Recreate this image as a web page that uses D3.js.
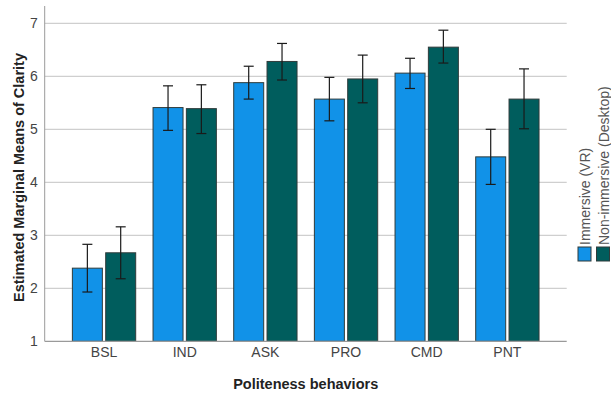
<!DOCTYPE html>
<html>
<head>
<meta charset="utf-8">
<script src="https://cdn.jsdelivr.net/npm/d3@7"></script>
<style>
body { margin: 0; background: #fff; }
text { font-family: Arial, "Liberation Sans", sans-serif; }
</style>
</head>
<body>
<div id="chart"></div>
<script>
var svgWidth = 611;
var svgHeight = 397;

// data
var behaviors = ["BSL", "IND", "ASK", "PRO", "CMD", "PNT"];
var groups = ["Immersive (VR)", "Non-immersive (Desktop)"];
var vrMeans = [2.38, 5.41, 5.88, 5.57, 6.06, 4.48];
var vrLow = [1.93, 4.98, 5.57, 5.16, 5.77, 3.96];
var vrHigh = [2.83, 5.82, 6.19, 5.98, 6.34, 5.00];
var deskMeans = [2.67, 5.39, 6.28, 5.95, 6.55, 5.57];
var deskLow = [2.18, 4.92, 5.93, 5.50, 6.25, 5.01];
var deskHigh = [3.16, 5.84, 6.62, 6.40, 6.87, 6.14];
var yTicks = [1, 2, 3, 4, 5, 6, 7];

var colors = ["#1192e8", "#005d5d"];

var plotLeft = 44.7, plotRight = 566.7, plotTop = 6, plotBottom = 341.3;

var svg = d3.select("#chart")
  .append("svg")
  .attr("width", svgWidth)
  .attr("height", svgHeight);

var yScale = d3.scaleLinear()
  .domain([1, 7])
  .range([plotBottom, 23.3]);

var xScale = d3.scaleBand()
  .domain(behaviors)
  .range([plotLeft, plotRight])
  .paddingInner(0.215)
  .paddingOuter(0.343);

var innerScale = d3.scaleBand()
  .domain(groups)
  .range([0, xScale.bandwidth()])
  .paddingInner(0.1);

// gridlines
svg.append("g")
  .selectAll("line")
  .data(yTicks.slice(1))
  .enter()
  .append("line")
  .attr("x1", plotLeft)
  .attr("x2", plotRight)
  .attr("y1", d => yScale(d))
  .attr("y2", d => yScale(d))
  .attr("stroke", "#cfcfcf")
  .attr("stroke-width", 1.2);

// y axis
var leftAxis = d3.axisLeft(yScale).tickValues(yTicks).tickSize(0).tickPadding(7).tickFormat(d3.format("d"));
var yAxis = svg.append("g")
  .attr("transform", `translate(${plotLeft}, 0)`)
  .call(leftAxis);
yAxis.select(".domain").remove();
yAxis.selectAll("text")
  .attr("font-size", 14)
  .attr("fill", "#444")
  .attr("font-family", "Arial, 'Liberation Sans', sans-serif");

svg.append("line")
  .attr("x1", plotLeft).attr("x2", plotLeft)
  .attr("y1", plotTop).attr("y2", plotBottom)
  .attr("stroke", "#9a9a9a");

// build table of bars
var rows = [];
behaviors.forEach(function(b, i) {
  rows.push({ cat: b, group: groups[0], mean: vrMeans[i], lo: vrLow[i], hi: vrHigh[i], c: 0 });
  rows.push({ cat: b, group: groups[1], mean: deskMeans[i], lo: deskLow[i], hi: deskHigh[i], c: 1 });
});

svg.append("g").selectAll("rect")
  .data(rows)
  .enter()
  .append("rect")
  .attr("x", d => xScale(d.cat) + innerScale(d.group))
  .attr("y", d => yScale(d.mean))
  .attr("width", innerScale.bandwidth())
  .attr("height", d => yScale(1) - yScale(d.mean))
  .attr("fill", d => colors[d.c])
  .attr("stroke", "#2f3b3b")
  .attr("stroke-width", 1);

// x axis
svg.append("line")
  .attr("x1", plotLeft).attr("x2", plotRight)
  .attr("y1", plotBottom).attr("y2", plotBottom)
  .attr("stroke", "#9a9a9a")
  .attr("stroke-width", 1.2);

var bottomAxis = d3.axisBottom(xScale).tickSize(0).tickPadding(6);
var xAxis = svg.append("g")
  .attr("transform", `translate(0, ${plotBottom})`)
  .call(bottomAxis);
xAxis.select(".domain").remove();
xAxis.selectAll("text")
  .attr("font-size", 14)
  .attr("fill", "#444")
  .attr("font-family", "Arial, 'Liberation Sans', sans-serif");

// error bars
var err = svg.append("g").selectAll("g")
  .data(rows)
  .enter()
  .append("g")
  .attr("stroke", "#1a1a1a")
  .attr("stroke-width", 1.2);

function cx(d) { return xScale(d.cat) + innerScale(d.group) + innerScale.bandwidth() / 2; }

err.append("line")
  .attr("x1", cx).attr("x2", cx)
  .attr("y1", d => yScale(d.lo))
  .attr("y2", d => yScale(d.hi));
err.append("line")
  .attr("x1", d => cx(d) - 5).attr("x2", d => cx(d) + 5)
  .attr("y1", d => yScale(d.hi)).attr("y2", d => yScale(d.hi));
err.append("line")
  .attr("x1", d => cx(d) - 5).attr("x2", d => cx(d) + 5)
  .attr("y1", d => yScale(d.lo)).attr("y2", d => yScale(d.lo));

// axis titles
svg.append("text")
  .attr("transform", `translate(24, 177.5) rotate(-90)`)
  .attr("text-anchor", "middle")
  .attr("font-size", 14.5)
  .attr("font-weight", "bold")
  .attr("fill", "#222")
  .text("Estimated Marginal Means of Clarity");

svg.append("text")
  .attr("x", (plotLeft + plotRight) / 2)
  .attr("y", 389)
  .attr("text-anchor", "middle")
  .attr("font-size", 14.5)
  .attr("font-weight", "bold")
  .attr("fill", "#222")
  .text("Politeness behaviors");

// legend
var legend = svg.append("g").selectAll("g")
  .data(groups)
  .enter()
  .append("g")
  .attr("transform", (d, i) => `translate(${578 + i * 18.5}, 247)`);

legend.append("rect")
  .attr("width", 13)
  .attr("height", 14)
  .attr("fill", (d, i) => colors[i])
  .attr("stroke", "#2f3b3b");

legend.append("text")
  .attr("transform", "translate(12, -2) rotate(-90)")
  .attr("font-size", 14)
  .attr("fill", "#555")
  .text(d => d);
</script>
</body>
</html>
